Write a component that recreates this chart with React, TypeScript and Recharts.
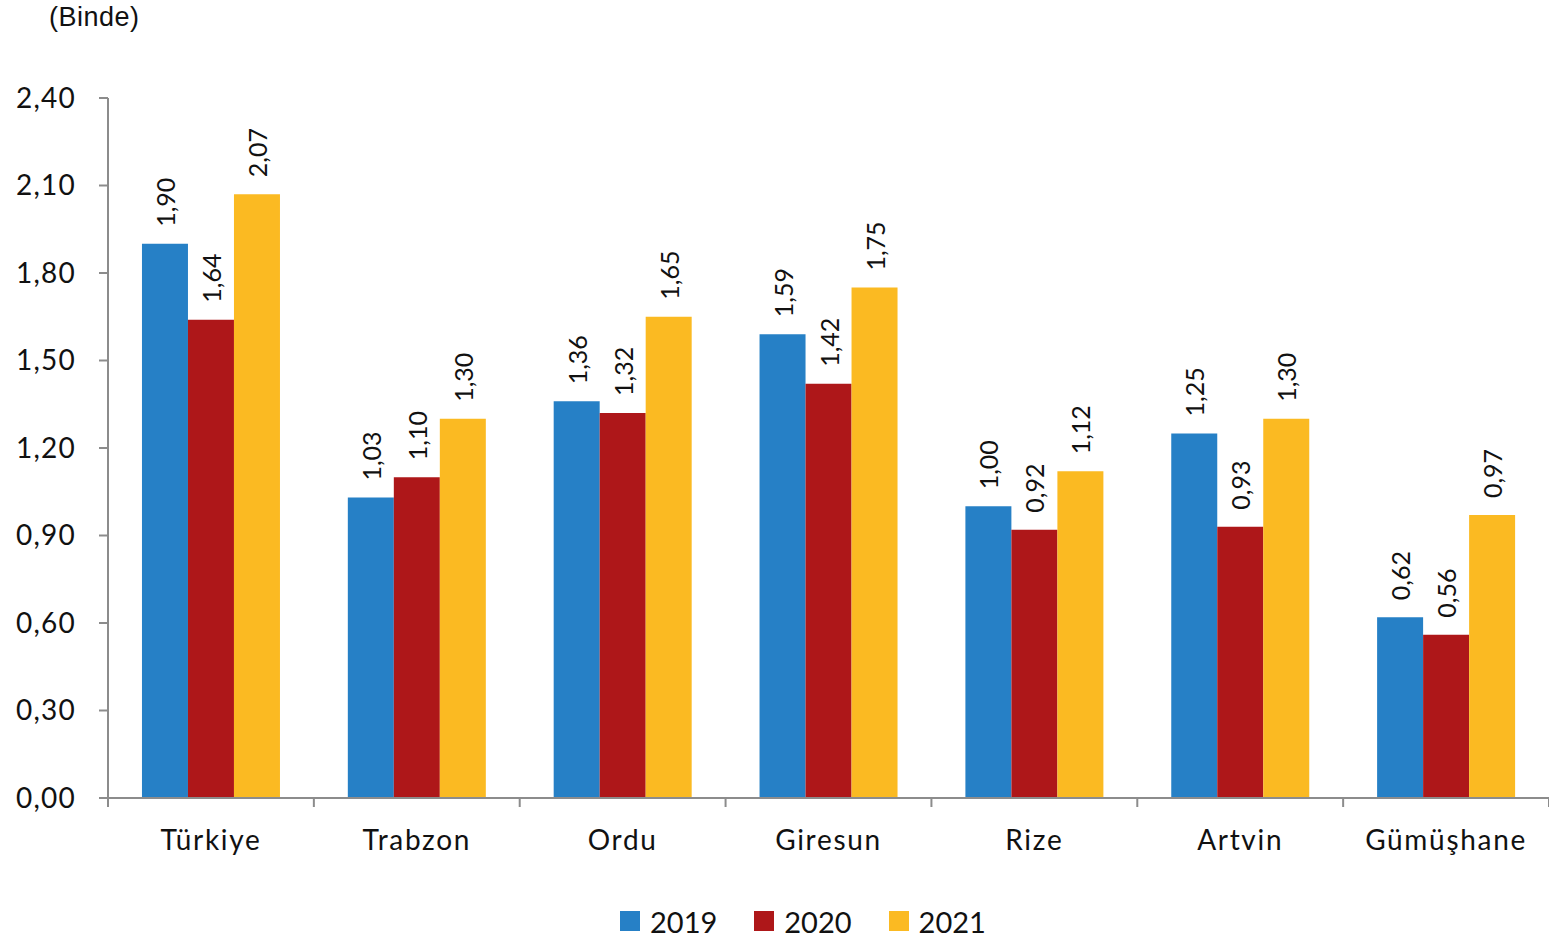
import React from 'react';
import { BarChart, Bar, XAxis, YAxis, LabelList } from 'recharts';

const provinces = ['Türkiye', 'Trabzon', 'Ordu', 'Giresun', 'Rize', 'Artvin', 'Gümüşhane'];
const values2019 = [1.9, 1.03, 1.36, 1.59, 1.0, 1.25, 0.62];
const values2020 = [1.64, 1.1, 1.32, 1.42, 0.92, 0.93, 0.56];
const values2021 = [2.07, 1.3, 1.65, 1.75, 1.12, 1.3, 0.97];
const yTicks = [0, 0.3, 0.6, 0.9, 1.2, 1.5, 1.8, 2.1, 2.4];

const series = [
  { key: 'y2019', name: '2019', color: '#2680C6' },
  { key: 'y2020', name: '2020', color: '#AE1719' },
  { key: 'y2021', name: '2021', color: '#FBBA22' },
];

const data = provinces.map((name, i) => ({
  name,
  y2019: values2019[i],
  y2020: values2020[i],
  y2021: values2021[i],
}));

const fmt = (v: number) => v.toFixed(2).replace('.', ',');
const font = 'Lato, "Open Sans", sans-serif';
const axisColor = '#8c8c8c';
const X_TICK_SIZE = 9;
const X_TICK_MARGIN = 23;

// rotated value label above each bar
const ValueLabel = (props: any) => {
  const { x, y, width, value } = props;
  const cx = x + width / 2;
  const ty = y - 17;
  return (
    <text
      x={cx}
      y={ty}
      transform={`rotate(-90 ${cx} ${ty})`}
      textAnchor="start"
      dominantBaseline="central"
      fontSize={25}
      fontFamily={font}
      fill="#111"
    >
      {fmt(value)}
    </text>
  );
};

// category label + tick marks on the category boundaries (Excel style)
const CategoryTick = (props: any) => {
  const { x, y, payload, index, visibleTicksCount } = props;
  const half = payload?.offset || (1549 - 108) / provinces.length / 2;
  const axisY = y - X_TICK_SIZE - X_TICK_MARGIN;
  const last = index === visibleTicksCount - 1;
  return (
    <g>
      <line x1={x - half} x2={x - half} y1={axisY} y2={axisY + X_TICK_SIZE} stroke={axisColor} strokeWidth={2} />
      {last && (
        <line x1={x + half} x2={x + half} y1={axisY} y2={axisY + X_TICK_SIZE} stroke={axisColor} strokeWidth={2} />
      )}
      <text x={x} y={y} dy="0.71em" textAnchor="middle" fontSize={28} fontFamily={font} fill="#111" letterSpacing={1.7}>
        {payload.value}
      </text>
    </g>
  );
};

export default function App() {
  return (
    <div style={{ position: 'absolute', left: 0, top: 0, width: 1549, height: 939, background: '#fff' }}>
      <div style={{ position: 'absolute', left: 49, top: 2, fontFamily: '"Liberation Sans", Arial, sans-serif', fontSize: 27, letterSpacing: 0.5, color: '#111' }}>
        (Binde)
      </div>
      <BarChart
        width={1549}
        height={939}
        data={data}
        margin={{ top: 98, right: 0, bottom: 72, left: 0 }}
        barCategoryGap="16.5%"
        barGap={0}
      >
        <XAxis
          dataKey="name"
          stroke={axisColor}
          strokeWidth={2}
          tickSize={X_TICK_SIZE}
          tickMargin={X_TICK_MARGIN}
          tickLine={false}
          height={69}
          interval={0}
          tick={<CategoryTick />}
        />
        <YAxis
          domain={[0, 2.4]}
          ticks={yTicks}
          tickFormatter={fmt}
          width={108}
          stroke={axisColor}
          strokeWidth={2}
          tickSize={9}
          tickMargin={23}
          tick={{ fill: '#111', fontSize: 28, fontFamily: font, letterSpacing: 1.2 }}
        />
        {series.map(s => (
          <Bar key={s.key} dataKey={s.key} name={s.name} fill={s.color} isAnimationActive={false}>
            <LabelList dataKey={s.key} content={<ValueLabel />} />
          </Bar>
        ))}
      </BarChart>
      <div
        style={{
          position: 'absolute', left: 620, top: 901, height: 40,
          display: 'flex', alignItems: 'center', gap: 37,
          fontFamily: font, fontSize: 29, color: '#111',
        }}
      >
        {series.map(s => (
          <div key={s.key} style={{ display: 'flex', alignItems: 'center' }}>
            <span style={{ display: 'inline-block', width: 20, height: 20, background: s.color, marginRight: 10 }} />
            <span>{s.name}</span>
          </div>
        ))}
      </div>
    </div>
  );
}
